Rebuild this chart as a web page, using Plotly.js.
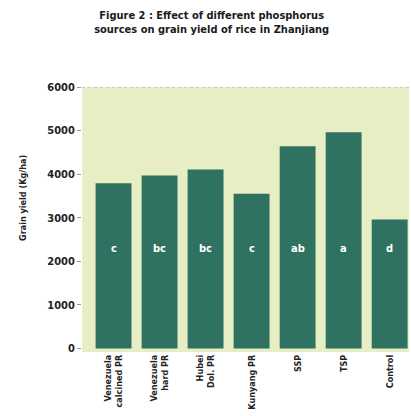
<!DOCTYPE html>
<html>
<head>
<meta charset="utf-8">
<script src="https://cdn.plot.ly/plotly-3.0.1.min.js"></script>
<style>
html,body{margin:0;padding:0;background:#fff;}
#chart{width:411px;height:416px;}
</style>
</head>
<body>
<div id="chart"></div>
<script>
var categories = ["Venezuela<br>calcined PR", "Venezuela<br>hard PR", "Hubei<br>Dol. PR", "Kunyang PR", "SSP", "TSP", "Control"];
var grainYield = [3790, 3970, 4110, 3550, 4640, 4960, 2960];
var significance = ["c", "bc", "bc", "c", "ab", "a", "d"];
var yTickVals = [0, 1000, 2000, 3000, 4000, 5000, 6000];
var yTickText = ["0", "1000", "2000", "3000", "4000", "5000", "6000"];

var FONT = "'Liberation Sans Narrow', 'DejaVu Sans Condensed', 'Arial Narrow', sans-serif";
var xIdx = categories.map(function(_, i){ return i; });

var trace = {
  type: "bar",
  x: xIdx,
  y: grainYield,
  base: 0,
  width: 0.78,
  marker: {color: "#2f7261", line: {width: 0}},
  hoverinfo: "none"
};

var annotations = significance.map(function(s, i){
  return {x: i, y: 2300, xref: "x", yref: "y", text: "<b>" + s + "</b>", showarrow: false,
          font: {family: FONT, size: 11, color: "#ffffff"}};
});
annotations.push({
  xref: "paper", yref: "paper", x: -0.2, y: 0.58, text: "<b>Grain yield (Kg/ha)</b>",
  textangle: -90, showarrow: false, font: {family: FONT, size: 9, color: "#222"}
});

var layout = {
  width: 411, height: 416,
  margin: {l: 82, r: 2, t: 87, b: 64},
  paper_bgcolor: "#ffffff",
  plot_bgcolor: "#e8eec3",
  showlegend: false,
  title: {
    text: "<b>Figure 2 : Effect of different phosphorus<br>sources on grain yield of rice in Zhanjiang</b>",
    font: {family: FONT, size: 11, color: "#1a1a1a"},
    x: 0.515, xref: "container", xanchor: "center",
    y: 0.955, yref: "container", yanchor: "top"
  },
  xaxis: {
    range: [-0.685, 6.42],
    tickvals: xIdx,
    ticktext: categories.map(function(c){ return "<b>" + c + "</b>"; }),
    tickangle: -90,
    tickfont: {family: FONT, size: 9, color: "#222"},
    showgrid: false, zeroline: false, showline: false, ticks: ""
  },
  yaxis: {
    range: [-80, 6000],
    tickvals: yTickVals,
    ticktext: yTickText.map(function(t){ return "<b>" + t + "</b>"; }),
    tickfont: {family: FONT, size: 11, color: "#222"},
    ticks: "outside", ticklen: 4, tickcolor: "#999", tickwidth: 1,
    showgrid: false, zeroline: false, showline: false
  },
  shapes: [{
    type: "line", xref: "paper", yref: "y", x0: 0, x1: 1, y0: 6000, y1: 6000,
    line: {color: "#b0a0a8", width: 1, dash: "dot"}
  }],
  annotations: annotations,
  bargap: 0.22
};

Plotly.newPlot("chart", [trace], layout, {displayModeBar: false, staticPlot: true});
</script>
</body>
</html>
